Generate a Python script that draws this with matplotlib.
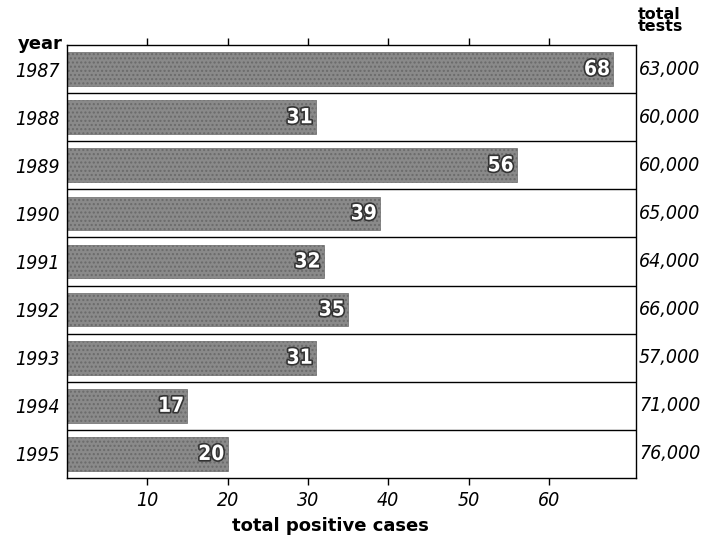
import numpy as np
import matplotlib.pyplot as plt
import matplotlib.patheffects as pe

years = ['1987', '1988', '1989', '1990', '1991', '1992', '1993', '1994', '1995']
positive_cases = [68, 31, 56, 39, 32, 35, 31, 17, 20]
# bar lengths as drawn in the picture (1994 bar is drawn shorter than its label)
bar_lengths = [68, 31, 56, 39, 32, 35, 31, 15, 20]
total_tests = ['63,000', '60,000', '60,000', '65,000', '64,000', '66,000', '57,000', '71,000', '76,000']
xticks = [10, 20, 30, 40, 50, 60]

plt.rcParams['font.family'] = ['DejaVu Sans']
plt.rcParams['font.stretch'] = 'condensed'
plt.rcParams['hatch.color'] = '#6f6f6f'

fig = plt.figure(figsize=(7.04, 5.46), dpi=100)
ax = fig.add_axes([0.095, 0.1245, 0.808, 0.793])

y = np.arange(len(years))
ax.barh(y, bar_lengths, height=0.7, color='#8a8a8a', edgecolor='#6a6a6a',
        hatch='....', linewidth=0.5, zorder=2)

# value labels at bar ends
for yi, v, n in zip(y, bar_lengths, positive_cases):
    ax.text(v - 0.4, yi, str(n), ha='right', va='center', color='white',
            fontsize=15, fontweight='bold', zorder=3,
            path_effects=[pe.withStroke(linewidth=2.4, foreground='#333333')])

# row separators
for b in y[:-1] + 0.5:
    ax.axhline(b, color='black', lw=1.0, zorder=1)

ax.set_xlim(0, 70.8)
ax.set_ylim(len(years) - 0.5, -0.5)

ax.set_yticks(y)
ax.set_yticklabels(years, fontsize=14, style='italic')
ax.tick_params(axis='y', length=0, pad=5)

ax.set_xticks(xticks)
ax.set_xticklabels([str(t) for t in xticks], fontsize=14, style='italic')
ax.tick_params(axis='x', direction='out', length=5, width=1, top=True, pad=4)

for s in ax.spines.values():
    s.set_linewidth(1.0)

# right-hand labels
for yi, t in zip(y, total_tests):
    ax.text(1.006, yi, t, transform=ax.get_yaxis_transform(), ha='left',
            va='center', fontsize=14, style='italic')

ax.text(-0.008, -0.42, 'year', transform=ax.get_yaxis_transform(), ha='right',
        va='baseline', fontsize=13, fontweight='bold', fontstretch='normal')
ax.text(1.004, -0.72, 'total\ntests', transform=ax.get_yaxis_transform(), ha='left',
        va='bottom', fontsize=11.5, fontweight='bold', fontstretch='normal',
        linespacing=0.8)

ax.set_xlabel('total positive cases', fontsize=13, fontweight='bold',
              fontstretch='normal', labelpad=6)
ax.xaxis.set_label_coords(0.463, -0.09)

fig.savefig('out.png', dpi=100)
